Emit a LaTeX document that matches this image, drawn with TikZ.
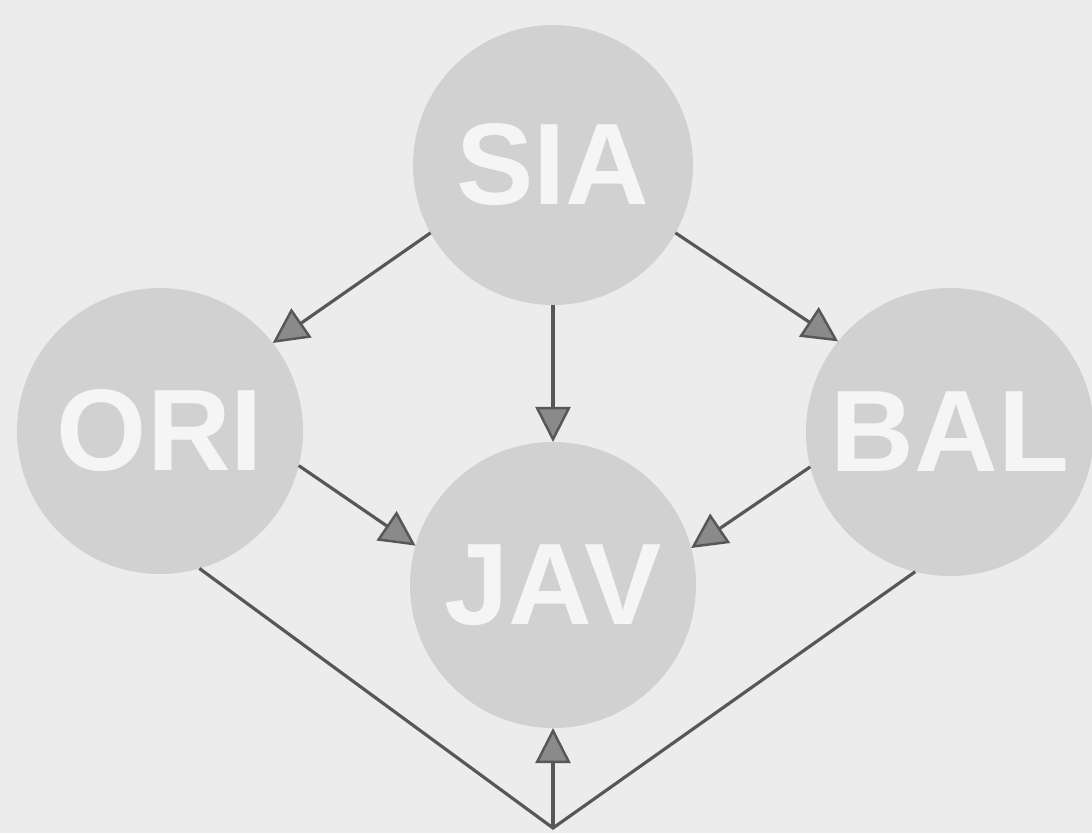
\documentclass[tikz,border=0pt]{standalone}
\usepackage{fontspec}
\setmainfont{Liberation Sans}
\usetikzlibrary{arrows.meta}
\definecolor{mybg}{HTML}{ECECEC}
\definecolor{mycircle}{HTML}{D1D1D1}
\definecolor{myline}{HTML}{575757}
\definecolor{mytip}{HTML}{8A8A8A}

\begin{document}
\begin{tikzpicture}[
            island/.style={circle, fill=mycircle, inner sep=0pt, outer sep=0pt,
                           minimum size=2.86cm, text=white!96!black,
                           font=\fontsize{33}{33}\selectfont\bfseries},
            vec/.style={draw=myline, line width=0.9pt,
                        arrows={-Triangle[length=10pt, width=10pt, fill=mytip, line width=0.7pt]}},
            link/.style={draw=myline, line width=0.9pt}
        ]

        \fill[mybg] (0,0) rectangle (10.92,8.33);
        \useasboundingbox (0,0) rectangle (10.92,8.33);

        \node[island, minimum size=2.80cm] (SIA) at (5.53,6.68) {SIA};
        \node[island] (ORI) at (1.60,4.02) {ORI};
        \node[island, minimum size=2.88cm] (BAL) at (9.50,4.01) {BAL};
        \node[island] (JAV) at (5.53,2.48) {JAV};

        \coordinate (bottom) at (5.53,0.05);

        \draw[vec] (SIA.-151) -- (ORI.38);
        \draw[vec] (SIA.south) -- (JAV.north);
        \draw[vec] (SIA.-29) -- (BAL.141);
        \draw[vec] (ORI.-14) -- (JAV.164);
        \draw[vec] (BAL.-166) -- (JAV.15);

        \draw[link] (ORI.-74) -- (bottom) -- (BAL.-104);
        \draw[vec] (bottom) -- (JAV.south);
    \end{tikzpicture}
\end{document}
